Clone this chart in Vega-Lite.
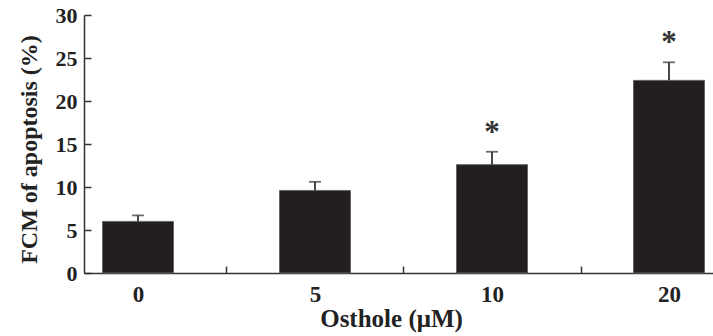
{
  "$schema": "https://vega.github.io/schema/vega-lite/v6.json",
  "width": 629,
  "height": 258,
  "autosize": {"type": "none"},
  "padding": {"left": 84, "top": 15, "right": 0, "bottom": 63},
  "background": "white",
  "config": {
    "view": {"stroke": null},
    "font": "Liberation Serif",
    "axis": {
      "domainColor": "#333333",
      "domainWidth": 1.5,
      "tickColor": "#333333",
      "tickWidth": 1.5,
      "labelFont": "Liberation Serif",
      "labelFontWeight": "bold",
      "labelColor": "#222222",
      "titleFont": "Liberation Serif",
      "titleFontWeight": "bold",
      "titleColor": "#222222",
      "grid": false
    }
  },
  "data": {
    "values": [
      {"dose": "0", "value": 6.0, "upper": 6.7, "sig": ""},
      {"dose": "5", "value": 9.6, "upper": 10.6, "sig": ""},
      {"dose": "10", "value": 12.6, "upper": 14.1, "sig": "*"},
      {"dose": "20", "value": 22.4, "upper": 24.5, "sig": "*"}
    ]
  },
  "encoding": {
    "x": {
      "field": "dose",
      "type": "ordinal",
      "sort": null,
      "scale": {"paddingInner": 0.599, "paddingOuter": 0.0763, "align": 0.685},
      "axis": {
        "title": "Osthole (μM)",
        "titleFontSize": 25,
        "labelFontSize": 23,
        "labelAngle": 0,
        "tickSize": -7,
        "tickOffset": -88.5,
        "labelOffset": 88.5,
        "tickOpacity": {"condition": {"test": "datum.value === '0'", "value": 0}, "value": 1},
        "labelPadding": 17,
        "titlePadding": 0,
        "titleX": 307
      }
    }
  },
  "layer": [
    {
      "mark": {"type": "bar", "color": "#231f20", "stroke": "#666666", "strokeWidth": 1},
      "encoding": {
        "y": {
          "field": "value",
          "type": "quantitative",
          "scale": {"domain": [0, 30], "nice": false},
          "axis": {
            "title": "FCM of apoptosis (%)",
            "titleFontSize": 24,
            "labelFontSize": 22,
            "values": [0, 5, 10, 15, 20, 25, 30],
            "tickSize": -7,
            "labelPadding": 14,
            "titlePadding": 14,
            "titleY": 134
          }
        }
      }
    },
    {
      "mark": {"type": "rule", "color": "#333333", "strokeWidth": 1.8},
      "encoding": {
        "y": {"field": "value", "type": "quantitative"},
        "y2": {"field": "upper"}
      }
    },
    {
      "mark": {"type": "tick", "color": "#333333", "thickness": 1.8, "size": 12},
      "encoding": {
        "y": {"field": "upper", "type": "quantitative"}
      }
    },
    {
      "mark": {"type": "text", "font": "Liberation Serif", "fontWeight": "bold", "fontSize": 31, "color": "#333333", "baseline": "middle", "dy": -19},
      "encoding": {
        "y": {"field": "upper", "type": "quantitative"},
        "text": {"field": "sig"}
      }
    }
  ]
}
